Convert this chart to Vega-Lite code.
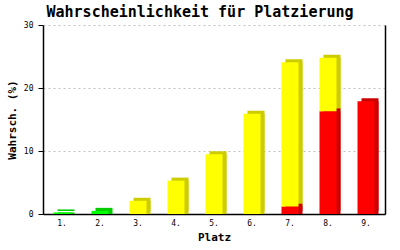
{
  "$schema": "https://vega.github.io/schema/vega-lite/v6.json",
  "autosize": {"type": "none"},
  "padding": {"left": 43, "top": 25, "right": 15, "bottom": 36},
  "width": 342,
  "height": 189,
  "background": "white",
  "title": {
    "text": "Wahrscheinlichkeit für Platzierung",
    "font": "DejaVu Sans Mono",
    "fontSize": 15,
    "fontWeight": "bold",
    "color": "black",
    "anchor": "middle",
    "frame": "group",
    "dx": -14,
    "offset": 1
  },
  "data": {
    "values": [
      {"platz": "1.", "typ": "grün", "wert": 0.25},
      {"platz": "2.", "typ": "grün", "wert": 0.5},
      {"platz": "3.", "typ": "gelb", "wert": 2.1},
      {"platz": "4.", "typ": "gelb", "wert": 5.3},
      {"platz": "5.", "typ": "gelb", "wert": 9.5},
      {"platz": "6.", "typ": "gelb", "wert": 15.9},
      {"platz": "7.", "typ": "rot", "wert": 1.2},
      {"platz": "7.", "typ": "gelb", "wert": 22.9},
      {"platz": "8.", "typ": "rot", "wert": 16.3},
      {"platz": "8.", "typ": "gelb", "wert": 8.5},
      {"platz": "9.", "typ": "rot", "wert": 17.9}
    ]
  },
  "encoding": {
    "x": {
      "field": "platz",
      "type": "ordinal",
      "scale": {"paddingInner": 0, "paddingOuter": 0},
      "axis": {
        "title": "Platz",
        "titleFont": "DejaVu Sans Mono",
        "titleFontSize": 11,
        "titleFontWeight": "bold",
        "titleColor": "black",
        "titlePadding": 4,
        "labelAngle": 0,
        "labelFont": "DejaVu Sans Mono",
        "labelFontSize": 8,
        "labelColor": "black",
        "labelPadding": 5,
        "ticks": false,
        "domainColor": "black",
        "domainWidth": 1.5
      }
    },
    "order": {"field": "typ", "sort": "descending"}
  },
  "layer": [
    {
      "mark": {"type": "bar", "width": 17, "xOffset": 4},
      "encoding": {
        "y": {
          "field": "wert",
          "type": "quantitative",
          "stack": "zero",
          "scale": {"domain": [0, 30]},
          "axis": {
            "orient": "right",
            "title": null,
            "labels": false,
            "ticks": false,
            "grid": false,
            "domainColor": "black",
            "domainWidth": 1.5
          }
        },
        "color": {
          "field": "typ",
          "type": "nominal",
          "scale": {"domain": ["grün", "gelb", "rot"], "range": ["#00cc00", "#cccc00", "#cc0000"]},
          "legend": null
        }
      }
    },
    {
      "mark": {"type": "bar", "width": 17, "xOffset": 4, "yOffset": -3},
      "encoding": {
        "y": {
          "field": "wert",
          "type": "quantitative",
          "stack": "zero",
          "scale": {"domain": [0, 30]},
          "axis": null
        },
        "color": {
          "field": "typ",
          "type": "nominal",
          "scale": {"domain": ["grün", "gelb", "rot"], "range": ["#00cc00", "#cccc00", "#cc0000"]},
          "legend": null
        }
      }
    },
    {
      "mark": {"type": "bar", "width": 17},
      "encoding": {
        "y": {
          "field": "wert",
          "type": "quantitative",
          "stack": "zero",
          "scale": {"domain": [0, 30]},
          "axis": {
            "title": "Wahrsch. (%)",
            "titleFont": "DejaVu Sans Mono",
            "titleFontSize": 11,
            "titleFontWeight": "bold",
            "titleColor": "black",
            "titlePadding": 6,
            "values": [0, 10, 20, 30],
            "labelFont": "DejaVu Sans Mono",
            "labelFontSize": 8,
            "labelColor": "black",
            "labelPadding": 5,
            "tickColor": "black",
            "tickSize": 5,
            "domainColor": "black",
            "domainWidth": 1.5,
            "grid": true,
            "gridColor": "#c0c0c0",
            "gridDash": [2, 3]
          }
        },
        "color": {
          "field": "typ",
          "type": "nominal",
          "scale": {"domain": ["grün", "gelb", "rot"], "range": ["#00ff00", "#ffff00", "#ff0000"]},
          "legend": null
        }
      }
    }
  ],
  "resolve": {"scale": {"color": "independent"}, "axis": {"y": "independent"}},
  "config": {"view": {"stroke": null}}
}
